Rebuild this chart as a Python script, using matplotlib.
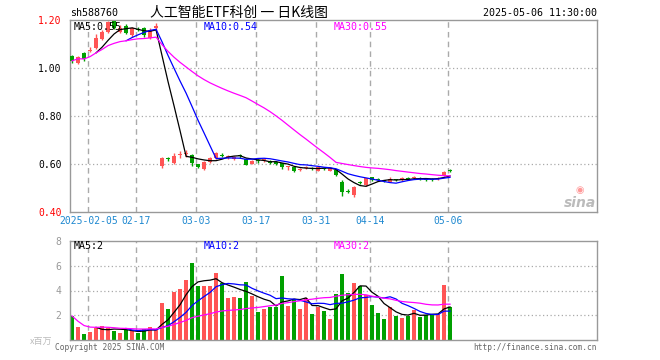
import matplotlib
matplotlib.use("Agg")
import matplotlib.pyplot as plt
import numpy as np
import pandas as pd

# ---------------- data ----------------
opens = [1.050, 1.020, 1.061, 1.071, 1.085, 1.122, 1.152, 1.195, 1.150, 1.175,
         1.136, 1.163, 1.165, 1.125, 1.168,
         0.590, 0.622, 0.603, 0.636, 0.640, 0.638, 0.600, 0.578, 0.610, 0.624,
         0.637, 0.628, 0.620, 0.634, 0.620, 0.600, 0.616, 0.615, 0.614, 0.610,
         0.603, 0.588, 0.589, 0.577, 0.585, 0.583, 0.572, 0.583, 0.572, 0.575,
         0.524, 0.487, 0.472, 0.523, 0.512, 0.545, 0.537, 0.531, 0.526, 0.534,
         0.533, 0.543, 0.541, 0.541, 0.537, 0.537, 0.539, 0.550, 0.572]
closes = [1.030, 1.047, 1.036, 1.077, 1.126, 1.148, 1.190, 1.168, 1.168, 1.145,
          1.165, 1.160, 1.137, 1.158, 1.174,
          0.624, 0.619, 0.633, 0.640, 0.644, 0.603, 0.587, 0.610, 0.624, 0.645,
          0.634, 0.632, 0.630, 0.632, 0.597, 0.614, 0.613, 0.618, 0.604, 0.600,
          0.586, 0.590, 0.572, 0.579, 0.587, 0.581, 0.586, 0.581, 0.582, 0.556,
          0.485, 0.484, 0.505, 0.521, 0.540, 0.533, 0.535, 0.529, 0.537, 0.532,
          0.543, 0.536, 0.544, 0.539, 0.535, 0.535, 0.542, 0.568, 0.570]
highs = [1.056, 1.050, 1.066, 1.086, 1.140, 1.160, 1.196, 1.203, 1.180, 1.182,
         1.170, 1.172, 1.170, 1.165, 1.189,
         0.628, 0.630, 0.645, 0.655, 0.660, 0.642, 0.602, 0.612, 0.628, 0.650,
         0.645, 0.638, 0.634, 0.642, 0.624, 0.617, 0.622, 0.624, 0.617, 0.613,
         0.605, 0.592, 0.592, 0.584, 0.592, 0.588, 0.590, 0.588, 0.585, 0.578,
         0.533, 0.497, 0.507, 0.530, 0.543, 0.547, 0.541, 0.535, 0.545, 0.538,
         0.546, 0.546, 0.551, 0.545, 0.541, 0.541, 0.546, 0.570, 0.580]
lows = [1.022, 1.015, 1.030, 1.066, 1.080, 1.115, 1.145, 1.162, 1.145, 1.140,
        1.130, 1.155, 1.130, 1.120, 1.154,
        0.585, 0.612, 0.600, 0.625, 0.628, 0.590, 0.583, 0.575, 0.606, 0.620,
        0.628, 0.622, 0.616, 0.626, 0.594, 0.598, 0.606, 0.610, 0.600, 0.597,
        0.580, 0.574, 0.566, 0.572, 0.580, 0.576, 0.570, 0.576, 0.570, 0.552,
        0.465, 0.478, 0.462, 0.515, 0.510, 0.530, 0.531, 0.525, 0.524, 0.528,
        0.530, 0.534, 0.536, 0.535, 0.531, 0.531, 0.535, 0.548, 0.565]
volumes = [1.94, 1.08, 0.48, 0.67, 0.94, 1.13, 0.94, 0.75, 0.59, 0.81,
           0.70, 0.60, 0.90, 1.05, 0.81,
           2.96, 2.47, 3.90, 4.12, 4.85, 6.25, 4.36, 4.36, 4.36, 5.44,
           4.63, 3.42, 3.50, 3.42, 4.69, 3.58, 2.29, 2.50, 2.69, 2.69,
           5.17, 2.75, 3.23, 2.50, 3.37, 2.10, 2.69, 2.37, 1.70, 3.72,
           5.33, 3.83, 4.63, 4.36, 3.64, 2.83, 2.21, 1.70, 2.69, 1.94,
           1.80, 1.94, 2.42, 1.88, 2.02, 2.10, 2.10, 4.44, 2.69]
date_tick_idx = [3, 11, 21, 31, 41, 50, 63]
date_tick_labels = ["2025-02-05", "02-17", "03-03", "03-17", "03-31", "04-14", "05-06"]
price_ticks = [0.40, 0.60, 0.80, 1.00, 1.20]
price_tick_labels = ["0.40", "0.60", "0.80", "1.00", "1.20"]
price_tick_colors = ["#FF0000", "#000000", "#000000", "#000000", "#FF0000"]
vol_ticks = [2, 4, 6, 8]
vol_tick_labels = ["2", "4", "6", "8"]
ma_labels_price = ["MA5:0.55", "MA10:0.54", "MA30:0.55"]
ma_labels_vol = ["MA5:2", "MA10:2", "MA30:2"]
title_code = "sh588760"
title_text = "人工智能ETF科创 一 日K线图"
time_text = "2025-05-06 11:30:00"

# ---------------- styling ----------------
RED = "#FF5555"
GREEN = "#00A000"
GRID = "#AAAAAA"
FRAME = "#999999"
MA_COLORS = ["#000000", "#0000FF", "#FF00FF"]
MONO = "DejaVu Sans Mono"
CJK = ["Noto Sans CJK SC", "DejaVu Sans"]

W, H = 660, 360
def fx(px):
    return px / W
def fy(py):
    return 1 - py / H

fig = plt.figure(figsize=(6.6, 3.6), dpi=100)
ax = fig.add_axes([fx(70), fy(212), (597 - 70) / W, (212 - 20) / H])
axv = fig.add_axes([fx(70), fy(340), (597 - 70) / W, (340 - 241) / H])

n = len(closes)
x = np.arange(n)
o = np.array(opens); c = np.array(closes); hi = np.array(highs); lo = np.array(lows)
v = np.array(volumes)
up = c >= o
colors = np.where(up, RED, GREEN)

XMIN, XMAX = -0.35, 87.5
grid_x = [i - 0.3 for i in date_tick_idx]

for a in (ax, axv):
    a.set_xlim(XMIN, XMAX)
    for gx in grid_x:
        a.axvline(gx, color=GRID, lw=1.0, linestyle=(0, (4, 3)), zorder=0)
    for s in a.spines.values():
        s.set_color(FRAME)
        s.set_linewidth(1.0)
    a.tick_params(length=0)

# price panel
ax.set_ylim(0.40, 1.20)
for gy in [0.6, 0.8, 1.0]:
    ax.axhline(gy, color=GRID, lw=0.9, linestyle=(0, (1, 2)), zorder=0)
ax.vlines(x, lo, hi, colors=colors, lw=1.0, zorder=2)
body_bottom = np.minimum(o, c)
body_h = np.maximum(np.abs(c - o), 0.004)
ax.bar(x, body_h, bottom=body_bottom, width=0.8, color=colors, linewidth=0, zorder=3)

cs = pd.Series(c)
for w, col in zip([5, 10, 30], MA_COLORS):
    ma = cs.rolling(w, min_periods=(1 if w == 30 else w)).mean()
    ax.plot(x, ma, color=col, lw=0.9, zorder=4)

ax.set_yticks(price_ticks)
ax.set_yticklabels(price_tick_labels, fontfamily=MONO, fontsize=7)
for lbl, col in zip(ax.get_yticklabels(), price_tick_colors):
    lbl.set_color(col)
ax.set_xticks(grid_x)
ax.set_xticklabels(date_tick_labels, fontfamily=MONO, fontsize=7, color="#1E88D0")
ax.tick_params(axis="x", pad=3)
ax.tick_params(axis="y", pad=6)

# volume panel
axv.set_ylim(0, 8)
for gy in [2, 4, 6]:
    axv.axhline(gy, color=GRID, lw=0.9, linestyle=(0, (1, 2)), zorder=0)
axv.bar(x, v, width=0.8, color=colors, linewidth=0, zorder=2)
vs = pd.Series(v)
for w, col in zip([5, 10, 30], MA_COLORS):
    ma = vs.rolling(w, min_periods=(1 if w == 30 else w)).mean()
    axv.plot(x, ma, color=col, lw=0.9, zorder=4)
axv.set_yticks(vol_ticks)
axv.set_yticklabels(vol_tick_labels, fontfamily=MONO, fontsize=7, color="#999999")
axv.tick_params(axis="y", pad=6)
axv.set_xticks([])

# texts
fig.text(fx(70), fy(13), title_code, fontfamily=MONO, fontsize=7.2, va="center", ha="left")
fig.text(fx(150), fy(13), title_text, fontfamily=CJK, fontsize=10, va="center", ha="left")
fig.text(fx(597), fy(13), time_text, fontfamily=MONO, fontsize=7.2, va="center", ha="right")

for lbl, col, px in zip(ma_labels_price, MA_COLORS, [74, 204, 334]):
    fig.text(fx(px), fy(27), lbl, fontfamily=MONO, fontsize=7.2, color=col, va="center", ha="left", zorder=10)
for lbl, col, px in zip(ma_labels_vol, MA_COLORS, [74, 204, 334]):
    fig.text(fx(px), fy(246), lbl, fontfamily=MONO, fontsize=7.2, color=col, va="center", ha="left", zorder=10)

fig.text(fx(30), fy(341), "x百万", fontfamily=CJK, fontsize=6.5, color="#BBBBBB", va="center", ha="left")
fig.text(fx(55), fy(347), "Copyright 2025 SINA.COM", fontfamily=MONO, fontsize=5.7, color="#666666", va="center", ha="left")
fig.text(fx(597), fy(347), "http://finance.sina.com.cn", fontfamily=MONO, fontsize=5.7, color="#666666", va="center", ha="right")
fig.text(fx(596), fy(203), "sina", fontfamily="DejaVu Sans", fontsize=10, fontstyle="italic", fontweight="bold",
         color="#BBBBBB", va="center", ha="right")
fig.text(fx(580), fy(190), "◉", fontfamily="DejaVu Sans", fontsize=7, color="#FF9999", va="center", ha="center")

fig.savefig("out.png", dpi=100)
